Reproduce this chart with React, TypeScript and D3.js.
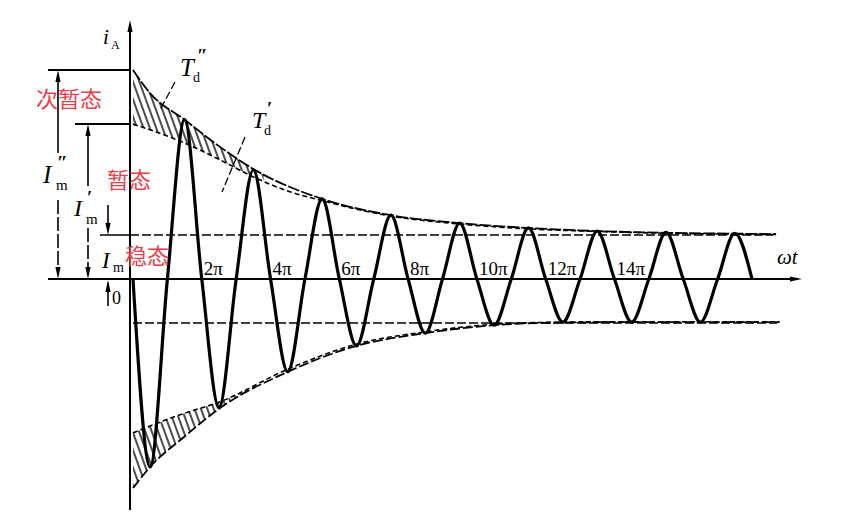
import { useMemo } from "react";
import * as d3 from "d3";

const W = 859;
const H = 519;
const AXIS_X = 130;
const AXIS_Y = 279;
const UNIT = 44; // px per steady-state amplitude

// extreme of each half cycle (in multiples of the steady amplitude), first one is negative
const PEAKS = [4.27, 3.62, 2.93, 2.48, 2.11, 1.82, 1.52, 1.45, 1.23, 1.27, 1.05, 1.16, 0.98, 1.09, 0.98, 1.06, 0.98, 1.04];

// envelopes, positions in units of pi
const UPPER_OUTER_AT = [0, 0.5, 1.5, 2.5, 3.5, 5.5, 7.5, 9.5, 11.5, 13.5, 15.5, 17.5, 18.7];
const UPPER_OUTER = [4.75, 4.22, 3.62, 3.02, 2.5, 1.82, 1.45, 1.27, 1.16, 1.09, 1.05, 1.03, 1.02];
const UPPER_INNER_AT = [0, 0.5, 1.5, 2.5, 3.5, 4.5, 5.5, 7.5, 9.5, 11.5, 13.5, 15.5, 18.7];
const UPPER_INNER = [3.52, 3.39, 3.09, 2.72, 2.32, 2.0, 1.78, 1.43, 1.25, 1.14, 1.08, 1.04, 1.01];
const LOWER_OUTER_AT = [0, 0.5, 1.5, 2.5, 4.5, 6.5, 8.5, 10.5, 12.5, 14.5, 16.5, 18.8];
const LOWER_OUTER = [4.75, 4.27, 3.58, 2.95, 2.11, 1.52, 1.23, 1.05, 0.99, 0.98, 0.98, 0.98];
const LOWER_INNER_AT = [0, 0.5, 1.5, 2.5, 4.5, 6.5, 8.5, 10.5, 12.5, 14.5, 16.5, 18.8];
const LOWER_INNER = [3.5, 3.34, 3.05, 2.8, 2.05, 1.48, 1.2, 1.03, 0.98, 0.97, 0.97, 0.97];

const STEADY = 1;
const TICKS = [2, 4, 6, 8, 10, 12, 14];
const RED = "#e8404a";
const SERIF = "Liberation Serif, DejaVu Serif, serif";
const CJK = "Noto Sans CJK SC, sans-serif";

type Pt = [number, number];

function Arrow({ x, y, dir }: { x: number; y: number; dir: "up" | "down" | "right" }) {
  const l = 12, w = 2.6;
  let d = "";
  if (dir === "up") d = `M${x},${y} L${x - w},${y + l} L${x + w},${y + l} Z`;
  if (dir === "down") d = `M${x},${y} L${x - w},${y - l} L${x + w},${y - l} Z`;
  if (dir === "right") d = `M${x},${y} L${x - l},${y - w} L${x - l},${y + w} Z`;
  return <path d={d} fill="#000" />;
}

export default function App() {
  const x = d3.scaleLinear().domain([0, 18]).range([133, 752]);
  const y = d3.scaleLinear().domain([-1, 1]).range([AXIS_Y + UNIT, AXIS_Y - UNIT]);

  const gen = useMemo(
    () =>
      d3
        .line<Pt>()
        .x((d) => x(d[0]))
        .y((d) => y(d[1]))
        .curve(d3.curveMonotoneX),
    []
  );

  const wave = useMemo(() => {
    const pts: Pt[] = [[0, 0]];
    PEAKS.forEach((p, k) => {
      pts.push([k + 0.5, k % 2 === 0 ? -p : p]);
      pts.push([k + 1, 0]);
    });
    return gen(pts) || "";
  }, [gen]);

  const upOuter: Pt[] = UPPER_OUTER_AT.map((t, i) => [t, UPPER_OUTER[i]]);
  const upInner: Pt[] = UPPER_INNER_AT.map((t, i) => [t, UPPER_INNER[i]]);
  const loOuter: Pt[] = LOWER_OUTER_AT.map((t, i) => [t, -LOWER_OUTER[i]]);
  const loInner: Pt[] = LOWER_INNER_AT.map((t, i) => [t, -LOWER_INNER[i]]);

  // closed region between two envelopes
  const band = (a: Pt[], b: Pt[]) =>
    (gen(a) || "") + (gen([...b].reverse()) || "").replace(/^M/, "L") + "Z";

  const yTop = y(UPPER_OUTER[0]);
  const yTrans = y(UPPER_INNER[0]);
  const ySteady = y(STEADY);

  return (
    <svg width={W} height={H} style={{ position: "absolute", left: 0, top: 0, background: "#fff" }}>
      <defs>
        <pattern id="hatch" width="6" height="6" patternUnits="userSpaceOnUse" patternTransform="rotate(-20)">
          <line x1="1" y1="0" x2="1" y2="6" stroke="#000" strokeWidth="1.4" />
        </pattern>
        <clipPath id="clipUp">
          <rect x={AXIS_X} y={0} width={x(3.8) - AXIS_X} height={H} />
        </clipPath>
        <clipPath id="clipLo">
          <rect x={AXIS_X} y={0} width={x(3.3) - AXIS_X} height={H} />
        </clipPath>
      </defs>

      {/* hatched subtransient bands */}
      <path d={band(upOuter, upInner)} fill="url(#hatch)" clipPath="url(#clipUp)" />
      <path d={band(loOuter, loInner)} fill="url(#hatch)" clipPath="url(#clipLo)" />

      {/* envelopes */}
      <path d={gen(upOuter) || ""} fill="none" stroke="#000" strokeWidth={1.8} strokeDasharray="12 2" />
      <path d={gen(loOuter) || ""} fill="none" stroke="#000" strokeWidth={1.8} strokeDasharray="10 3" />
      <path d={gen(upInner) || ""} fill="none" stroke="#000" strokeWidth={1.6} strokeDasharray="5 3" />
      <path d={gen(loInner) || ""} fill="none" stroke="#000" strokeWidth={1.6} strokeDasharray="5 3" />

      {/* steady-state lines */}
      <line x1={100} x2={AXIS_X} y1={ySteady} y2={ySteady} stroke="#000" strokeWidth={1.5} />
      <line x1={AXIS_X} x2={773} y1={ySteady} y2={ySteady} stroke="#000" strokeWidth={1.6} strokeDasharray="9 3" />
      <line x1={x(0)} x2={777} y1={y(-STEADY)} y2={y(-STEADY)} stroke="#000" strokeWidth={1.6} strokeDasharray="9 3" />

      {/* reference lines at the left */}
      <line x1={48} x2={AXIS_X} y1={yTop} y2={yTop} stroke="#000" strokeWidth={2} />
      <line x1={75} x2={AXIS_X} y1={yTrans} y2={yTrans} stroke="#000" strokeWidth={2} />

      {/* axes */}
      <line x1={48} x2={798} y1={AXIS_Y} y2={AXIS_Y} stroke="#000" strokeWidth={2.2} />
      <Arrow x={802} y={AXIS_Y} dir="right" />
      <line x1={AXIS_X} x2={AXIS_X} y1={24} y2={510} stroke="#000" strokeWidth={2} />
      <Arrow x={AXIS_X} y={20} dir="up" />

      {/* current */}
      <path d={wave} fill="none" stroke="#000" strokeWidth={3.2} strokeLinejoin="round" />

      {/* dimension arrows */}
      <line x1={58} x2={58} y1={yTop + 4} y2={153} stroke="#000" strokeWidth={1.6} />
      <line x1={58} x2={58} y1={200} y2={AXIS_Y - 4} stroke="#000" strokeWidth={1.6} strokeDasharray="14 3" />
      <Arrow x={58} y={yTop} dir="up" />
      <Arrow x={58} y={AXIS_Y} dir="down" />

      <line x1={88} x2={88} y1={yTrans + 4} y2={186} stroke="#000" strokeWidth={1.6} />
      <line x1={88} x2={88} y1={228} y2={AXIS_Y - 4} stroke="#000" strokeWidth={1.6} strokeDasharray="14 3" />
      <Arrow x={88} y={yTrans} dir="up" />
      <Arrow x={88} y={AXIS_Y} dir="down" />

      <line x1={108} x2={108} y1={205} y2={ySteady - 4} stroke="#000" strokeWidth={1.6} />
      <Arrow x={108} y={ySteady} dir="down" />
      <line x1={108} x2={108} y1={AXIS_Y + 4} y2={306} stroke="#000" strokeWidth={1.6} />
      <Arrow x={108} y={AXIS_Y + 1} dir="up" />

      {/* leader lines */}
      <line x1={175} y1={82} x2={160} y2={110} stroke="#000" strokeWidth={1.3} strokeDasharray="8 3" />
      <line x1={245} y1={137} x2={222} y2={192} stroke="#000" strokeWidth={1.3} strokeDasharray="8 3" />

      {/* math labels */}
      <g fontFamily={SERIF} fill="#000">
        <text x={103} y={44} fontSize={21} fontStyle="italic">i</text>
        <text x={111} y={49} fontSize={12}>A</text>

        <text x={43} y={183} fontSize={25} fontStyle="italic">I</text>
        <text x={57} y={169} fontSize={19} fontWeight="bold">″</text>
        <text x={56} y={190} fontSize={15}>m</text>

        <text x={74} y={216} fontSize={24} fontStyle="italic">I</text>
        <text x={87} y={204} fontSize={19} fontWeight="bold">′</text>
        <text x={86} y={224} fontSize={15}>m</text>

        <text x={102} y={268} fontSize={23} fontStyle="italic">I</text>
        <text x={113} y={272} fontSize={14}>m</text>

        <text x={112} y={304} fontSize={18}>0</text>

        <text x={180} y={76} fontSize={25} fontStyle="italic">T</text>
        <text x={197} y={62} fontSize={19} fontWeight="bold">″</text>
        <text x={193} y={82} fontSize={14}>d</text>

        <text x={252} y={128} fontSize={24} fontStyle="italic">T</text>
        <text x={267} y={115} fontSize={19} fontWeight="bold">′</text>
        <text x={264} y={135} fontSize={14}>d</text>

        <text x={777} y={264} fontSize={21} fontStyle="italic">ωt</text>

        {TICKS.map((t) => (
          <text key={t} x={x(t) + 2} y={275} fontSize={19}>
            {`${t}π`}
          </text>
        ))}
      </g>

      {/* Chinese labels */}
      <g fontFamily={CJK} fill={RED} fontSize={22}>
        <text x={36} y={107}>次暂态</text>
        <text x={107} y={188}>暂态</text>
        <text x={125} y={264}>稳态</text>
      </g>
    </svg>
  );
}
